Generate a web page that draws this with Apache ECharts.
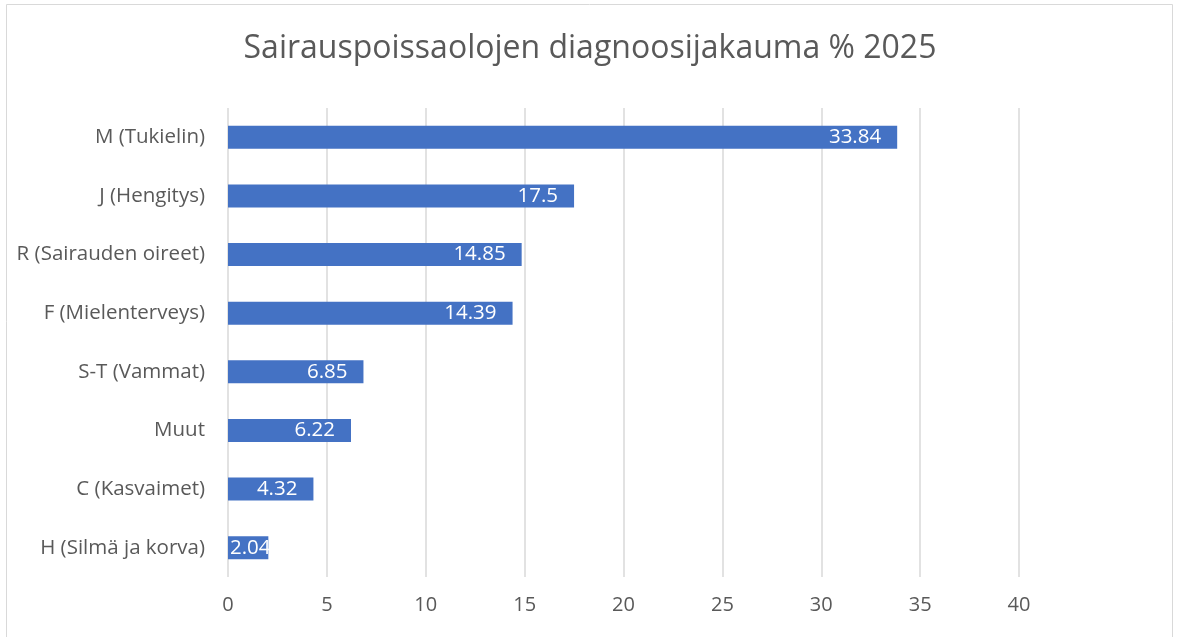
<!DOCTYPE html>
<html>
<head>
<meta charset="utf-8">
<script src="https://cdn.jsdelivr.net/npm/echarts@6/dist/echarts.min.js"></script>
<style>
  html, body { margin: 0; padding: 0; background: #fff; }
  #chart { width: 1180px; height: 637px; }
</style>
</head>
<body>
<div id="chart"></div>
<script>
// categories from bottom to top (category axis starts at the bottom)
var categories = [
  "H (Silmä ja korva)",
  "C (Kasvaimet)",
  "Muut",
  "S-T (Vammat)",
  "F (Mielenterveys)",
  "R (Sairauden oireet)",
  "J (Hengitys)",
  "M (Tukielin)"
];
var values = [2.04, 4.32, 6.22, 6.85, 14.39, 14.85, 17.5, 33.84];
var titleText = "Sairauspoissaolojen diagnoosijakauma % 2025";

var chart = echarts.init(document.getElementById("chart"));
var textColor = "#595959";
var font = "'Open Sans', 'Noto Sans', sans-serif";

// short bars can't hold the label at their end, so start it at the left
var barData = values.map(function (v) {
  if (v < 3) {
    return { value: v, label: { position: "insideLeft", distance: 2 } };
  }
  return v;
});

chart.setOption({
  animation: false,
  title: {
    text: titleText,
    left: "center",
    top: 28,
    textStyle: { color: textColor, fontSize: 32, fontWeight: "normal", fontFamily: font }
  },
  graphic: [{
    type: "rect",
    shape: { x: 6.5, y: 4.5, width: 1166, height: 640 },
    style: { fill: "none", stroke: "#d9d9d9", lineWidth: 1 },
    silent: true
  }],
  grid: { left: 228, right: 161, top: 108, bottom: 60, containLabel: false },
  xAxis: {
    type: "value",
    min: 0,
    max: 40,
    interval: 5,
    axisLine: { show: false },
    axisTick: { show: false },
    splitLine: { lineStyle: { color: "#d9d9d9", width: 1.5 } },
    axisLabel: { color: textColor, fontSize: 20, fontFamily: font, margin: 18 }
  },
  yAxis: {
    type: "category",
    data: categories,
    axisLine: { show: false },
    axisTick: { show: false },
    axisLabel: { color: textColor, fontSize: 20.5, fontFamily: font, margin: 23 }
  },
  series: [{
    type: "bar",
    data: barData,
    barWidth: 23,
    itemStyle: { color: "#4472C4" },
    label: {
      show: true,
      position: "insideRight",
      distance: 16,
      color: "#fff",
      fontSize: 20.5,
      fontFamily: font
    }
  }]
});
</script>
</body>
</html>
